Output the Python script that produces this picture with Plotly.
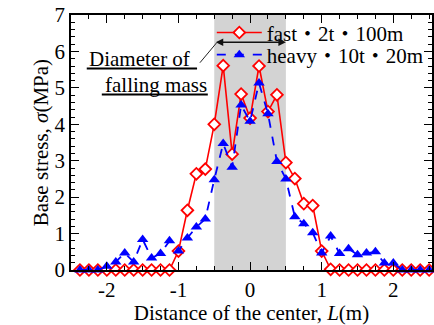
import plotly.graph_objects as go

# Distance from the center L (m)
distance = [-2.375, -2.25, -2.125, -2.0, -1.875, -1.75, -1.625, -1.5, -1.375, -1.25,
            -1.125, -1.0, -0.875, -0.75, -0.625, -0.5, -0.375, -0.25, -0.125, 0.0,
            0.125, 0.25, 0.375, 0.5, 0.625, 0.75, 0.875, 1.0, 1.125, 1.25,
            1.375, 1.5, 1.625, 1.75, 1.875, 2.0, 2.125, 2.25, 2.375, 2.5]

# fast · 2t · 100m (MPa)
fast_stress = [0.0, 0.0, 0.0, 0.0, 0.0, 0.0, 0.0, 0.0, 0.0, 0.0,
               0.0, 0.52, 1.64, 2.64, 2.77, 4.0, 5.61, 3.18, 4.83, 4.17,
               5.6, 4.35, 4.81, 2.95, 2.51, 1.82, 1.77, 0.52, 0.02, 0.0,
               0.0, 0.0, 0.0, 0.0, 0.0, 0.0, 0.0, 0.0, 0.0, 0.0]

# heavy · 10t · 20m (MPa)
heavy_stress = [0.0, 0.0, 0.0, 0.1, 0.22, 0.47, 0.22, 0.84, 0.33, 0.45,
                0.8, 0.52, 0.88, 1.18, 1.40, 2.48, 3.47, 2.82, 4.53, 4.08,
                5.13, 4.29, 2.98, 2.5, 1.46, 1.27, 1.02, 0.47, 0.93, 0.45,
                0.58, 0.42, 0.47, 0.5, 0.19, 0.19, 0.0, 0.0, 0.0, 0.0]

x_tick_vals = [-2, -1, 0, 1, 2]
x_tick_text = ["-2", "-1", "0", "1", "2"]
y_tick_vals = [0, 1, 2, 3, 4, 5, 6, 7]
y_tick_text = ["0", "1", "2", "3", "4", "5", "6", "7"]

series_names = ["fast\u30fb2t\u30fb100m", "heavy\u30fb10t\u30fb20m"]

FONT = "Liberation Serif, Times New Roman, Noto Sans CJK JP, serif"
FS = 21

fig = go.Figure()

fig.add_trace(go.Scatter(
    x=distance, y=fast_stress, name=series_names[0], mode="lines+markers",
    line=dict(color="#ff0000", width=1.6),
    marker=dict(symbol="diamond", size=9, color="white",
                line=dict(color="#ff0000", width=1.8)),
    cliponaxis=False, legend="legend",
))
fig.add_trace(go.Scatter(
    x=distance, y=heavy_stress, name=series_names[1], mode="lines+markers",
    line=dict(color="#0000ff", width=1.8, dash="dash"),
    marker=dict(symbol="triangle-up", size=10, color="#0000ff"),
    cliponaxis=False, legend="legend2",
))

# shaded diameter band
fig.add_shape(type="rect", xref="x", yref="paper", x0=-0.5, x1=0.5, y0=0, y1=1,
              fillcolor="#d3d3d3", line=dict(width=0), layer="below")

# double arrow showing diameter
fig.add_annotation(x=0.5, y=6.25, ax=-0.5, ay=6.25, xref="x", yref="y",
                   axref="x", ayref="y", text="", showarrow=True,
                   arrowhead=2, startarrowhead=2, arrowside="end+start",
                   arrowsize=1, arrowwidth=1.5, arrowcolor="#111111")
# leader line
fig.add_shape(type="line", xref="x", yref="y", x0=-0.47, y0=6.23, x1=-0.70, y1=5.69,
              line=dict(color="#222222", width=1))

# label text
fig.add_annotation(x=-2.28, y=5.78, xref="x", yref="y", text="Diameter of",
                   showarrow=False, xanchor="left", yanchor="middle",
                   font=dict(family=FONT, size=FS, color="black"))
fig.add_annotation(x=-2.06, y=5.08, xref="x", yref="y", text="falling mass",
                   showarrow=False, xanchor="left", yanchor="middle",
                   font=dict(family=FONT, size=FS, color="black"))
fig.add_shape(type="line", xref="x", yref="y", x0=-2.28, x1=-0.74, y0=5.53, y1=5.53,
              line=dict(color="black", width=2))
fig.add_shape(type="line", xref="x", yref="y", x0=-2.07, x1=-0.59, y0=4.82, y1=4.82,
              line=dict(color="black", width=2))

axis_common = dict(
    showline=True, linecolor="black", linewidth=1.5, mirror="allticks",
    ticks="inside", tickcolor="black", tickwidth=1.2, ticklen=8,
    showgrid=False, zeroline=False,
    tickfont=dict(family=FONT, size=FS, color="black"),
)

fig.update_xaxes(
    range=[-2.5, 2.54], tickmode="array", tickvals=x_tick_vals, ticktext=x_tick_text,
    minor=dict(ticks="inside", ticklen=4, tickcolor="black", tickwidth=1,
               tick0=0, dtick=0.25, showgrid=False),
    title=dict(text="Distance of the center, <i>L</i>(m)",
               font=dict(family=FONT, size=FS, color="black"), standoff=2),
    **axis_common,
)
fig.update_yaxes(
    range=[0, 7], tickmode="array", tickvals=y_tick_vals, ticktext=y_tick_text,
    minor=dict(ticks="inside", ticklen=4, tickcolor="black", tickwidth=1,
               tick0=0, dtick=0.2, showgrid=False),
    title=dict(text="Base stress, <i>\u03c3</i>(MPa)",
               font=dict(family=FONT, size=FS, color="black"), standoff=0),
    **axis_common,
)

legend_common = dict(xanchor="left", yanchor="middle", bgcolor="rgba(0,0,0,0)",
                     font=dict(family=FONT, size=FS, color="black"), itemwidth=45)

fig.update_layout(
    width=434, height=325,
    margin=dict(l=71, r=2, t=15, b=55, autoexpand=False),
    paper_bgcolor="white", plot_bgcolor="white",
    showlegend=True,
    legend=dict(x=0.39, y=0.93, **legend_common),
    legend2=dict(x=0.39, y=0.843, **legend_common),
)

fig.write_html("out.html")
